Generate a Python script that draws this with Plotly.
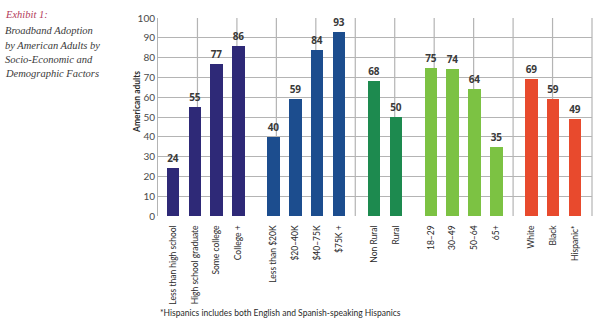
import plotly.graph_objects as go

# Broadband adoption (% of American adults) by group
education = ["Less than high school", "High school graduate", "Some college", "College +"]
education_vals = [24, 55, 77, 86]
income = ["Less than $20K", "$20\u201340K", "$40\u201375K", "$75K +"]
income_vals = [40, 59, 84, 93]
community = ["Non Rural", "Rural"]
community_vals = [68, 50]
age = ["18\u201329", "30\u201349", "50\u201364", "65+"]
age_vals = [75, 74, 64, 35]
race = ["White", "Black", "Hispanic*"]
race_vals = [69, 59, 49]

group_colors = ["#2e2977", "#1c4d8e", "#1d8a4f", "#7cc243", "#e84a2d"]
groups = [
    (education, education_vals),
    (income, income_vals),
    (community, community_vals),
    (age, age_vals),
    (race, race_vals),
]

GROUP_GAP = 0.6   # extra spacing between groups, in bar slots
BAR_WIDTH = 0.57
GRID_COLS = 11    # evenly spaced vertical grid columns
GRID_COLOR = "#b4b4b4"

fig = go.Figure()

tickvals, ticktext = [], []
pos = 0.0
for (labels, vals), color in zip(groups, group_colors):
    xs = [pos + i for i in range(len(labels))]
    fig.add_trace(go.Bar(
        x=xs, y=vals, width=BAR_WIDTH,
        marker=dict(color=color, line=dict(width=0)),
        text=[str(v) for v in vals], textposition="outside",
        textfont=dict(family="Open Sans", size=10, color="#3a3a3a", weight="bold"),
        cliponaxis=False, hoverinfo="skip",
    ))
    tickvals += xs
    ticktext += labels
    pos = xs[-1] + 1 + GROUP_GAP

x_lo, x_hi = -0.687, 19.18

# vertical grid, evenly spaced across the plot area, beneath the bars
for k in range(1, GRID_COLS + 1):
    fig.add_shape(type="line", xref="paper", yref="paper",
                  x0=k / GRID_COLS, x1=k / GRID_COLS, y0=0, y1=1,
                  line=dict(color=GRID_COLOR, width=1.2), layer="below")

fig.update_layout(
    xaxis=dict(
        range=[x_lo, x_hi], tickmode="array", tickvals=tickvals, ticktext=ticktext,
        tickangle=-90, showgrid=False, zeroline=False, ticks="outside", ticklen=5,
        tickcolor="rgba(0,0,0,0)",
        tickfont=dict(family="Lato", size=8.5, color="#2a2a2a"),
        showline=False,
    ),
    yaxis=dict(
        range=[0, 100], dtick=10, showgrid=True, gridcolor=GRID_COLOR, gridwidth=1,
        zeroline=False, showline=True, linecolor=GRID_COLOR, linewidth=1,
        tickfont=dict(family="Lato", size=10, color="#4a4a4a"), ticks="",
    ),
)

PLOT_W, PLOT_H, TOP = 434, 198, 18

def px_x(x):
    return (x - 158) / PLOT_W

def px_y(y):
    return 1 + (TOP - y) / PLOT_H

fig.add_annotation(
    x=px_x(130), y=px_y(102), xref="paper", yref="paper", textangle=-90,
    showarrow=False, text="<b>American adults</b>",
    font=dict(family="Lato", size=8.5, color="#2a2a2a"),
)

# Heading on the left
heading = [
    ("Exhibit 1:", "#b33a5a"),
    ("Broadband Adoption", "#3a3a3a"),
    ("by American Adults by", "#3a3a3a"),
    ("Socio-Economic and", "#3a3a3a"),
    ("Demographic Factors", "#3a3a3a"),
]
line_y = [14, 31, 45, 59, 73]
for (txt, col), yy in zip(heading, line_y):
    fig.add_annotation(
        x=px_x(3), y=px_y(yy), xref="paper", yref="paper",
        xanchor="left", yanchor="middle", showarrow=False,
        text=f"<i>{txt}</i>",
        font=dict(family="Liberation Serif", size=10.5, color=col),
    )

fig.add_annotation(
    x=0, y=px_y(313), xref="paper", yref="paper",
    xanchor="left", yanchor="middle", showarrow=False,
    text="*Hispanics includes both English and Spanish-speaking Hispanics",
    font=dict(family="Lato", size=8.5, color="#2a2a2a"),
)

fig.update_layout(
    width=600, height=330, margin=dict(l=158, r=8, t=18, b=114),
    paper_bgcolor="white", plot_bgcolor="rgba(0,0,0,0)", showlegend=False,
    bargap=0, barmode="overlay",
)

fig.write_html("out.html")
